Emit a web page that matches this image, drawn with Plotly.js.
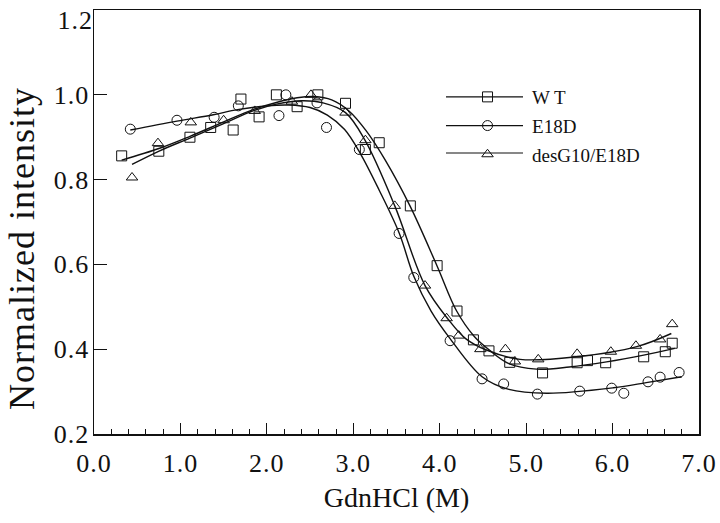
<!DOCTYPE html>
<html>
<head>
<meta charset="utf-8">
<script src="https://cdn.plot.ly/plotly-3.0.1.min.js"></script>
<style>
html, body { margin: 0; padding: 0; background: #fff; }
#chart { width: 720px; height: 523px; }
#chart .xtick text, #chart .ytick text, #chart .annotation-text { letter-spacing: 1px; }
</style>
</head>
<body>
<div id="chart"></div>
<script>
// Measured data points
const wtX = [0.32, 0.75, 1.11, 1.35, 1.61, 1.70, 1.91, 2.11, 2.35, 2.59, 2.91, 3.14, 3.30, 3.66, 3.97, 4.20, 4.39, 4.57, 4.81, 5.19, 5.59, 5.71, 5.92, 6.36, 6.61, 6.69];
const wtY = [0.856, 0.867, 0.900, 0.923, 0.917, 0.990, 0.948, 1.000, 0.972, 1.000, 0.980, 0.871, 0.887, 0.738, 0.597, 0.490, 0.422, 0.396, 0.369, 0.344, 0.368, 0.373, 0.368, 0.382, 0.394, 0.414];

const e18dX = [0.42, 0.96, 1.39, 1.67, 2.14, 2.22, 2.58, 2.69, 3.07, 3.53, 3.70, 4.12, 4.49, 4.74, 5.13, 5.62, 5.99, 6.13, 6.41, 6.55, 6.77];
const e18dY = [0.919, 0.940, 0.947, 0.974, 0.951, 1.000, 0.981, 0.923, 0.871, 0.673, 0.569, 0.420, 0.330, 0.318, 0.294, 0.301, 0.308, 0.296, 0.323, 0.334, 0.345];

const desX = [0.44, 0.74, 1.12, 1.50, 1.86, 2.29, 2.51, 2.91, 3.14, 3.48, 3.83, 4.08, 4.22, 4.47, 4.76, 4.87, 5.14, 5.59, 5.98, 6.27, 6.55, 6.69];
const desY = [0.805, 0.886, 0.935, 0.940, 0.962, 0.984, 1.000, 0.958, 0.893, 0.738, 0.550, 0.473, 0.432, 0.400, 0.400, 0.371, 0.376, 0.389, 0.394, 0.408, 0.423, 0.459];

// Fitted curves
const wtFitX = [0.32, 0.76, 1.11, 1.5, 1.84, 2.11, 2.35, 2.55, 2.75, 2.95, 3.15, 3.37, 3.656, 3.968, 4.196, 4.4, 4.574, 4.8, 5.12, 5.5, 5.93, 6.36, 6.72];
const wtFitY = [0.846, 0.874, 0.902, 0.936, 0.965, 0.982, 0.993, 0.996, 0.988, 0.962, 0.915, 0.846, 0.738, 0.597, 0.490, 0.430, 0.398, 0.366, 0.353, 0.358, 0.370, 0.386, 0.402];

const e18dFitX = [0.42, 0.96, 1.38, 1.66, 2.0, 2.25, 2.5, 2.7, 2.9, 3.08, 3.3, 3.533, 3.7, 3.9, 4.12, 4.49, 4.8, 5.24, 6.01, 6.39, 6.8];
const e18dFitY = [0.917, 0.938, 0.953, 0.965, 0.974, 0.976, 0.970, 0.952, 0.918, 0.862, 0.775, 0.673, 0.572, 0.490, 0.425, 0.335, 0.305, 0.296, 0.309, 0.321, 0.335];

const desFitX = [0.44, 0.76, 1.11, 1.5, 1.84, 2.11, 2.4, 2.65, 2.91, 3.135, 3.48, 3.83, 4.1, 4.3, 4.54, 4.93, 5.58, 6.28, 6.68];
const desFitY = [0.836, 0.868, 0.898, 0.932, 0.962, 0.978, 0.986, 0.981, 0.958, 0.893, 0.738, 0.550, 0.470, 0.425, 0.398, 0.376, 0.382, 0.406, 0.437];

const seriesNames = ['W T', 'E18D', 'desG10/E18D'];
const symbols = ['square-open', 'circle-open', 'triangle-up-open'];

const xTickVals = [0, 1, 2, 3, 4, 5, 6, 7];
const yTickVals = [0.2, 0.4, 0.6, 0.8, 1.0, 1.2];
const yTopLabel = '1.2';
const yTitle = 'Normalized intensity';

const serif = 'Liberation Serif, Times New Roman, serif';
const ink = '#111';

function fit(x, y) {
  return { x: x, y: y, mode: 'lines', line: { color: ink, width: 1.4, shape: 'spline', smoothing: 1 }, showlegend: false, hoverinfo: 'skip' };
}
function pts(x, y, sym) {
  return { x: x, y: y, mode: 'markers', marker: { symbol: sym, size: 10, color: ink, line: { width: 1, color: ink } }, showlegend: false };
}
function leg(name, sym, i) {
  return { x: [null], y: [null], name: name, legendgroup: 'g' + i, mode: 'markers', marker: { symbol: sym, size: 10, color: ink, line: { width: 1, color: ink } } };
}

const data = [
  fit(wtFitX, wtFitY), fit(e18dFitX, e18dFitY), fit(desFitX, desFitY),
  pts(wtX, wtY, symbols[0]), pts(e18dX, e18dY, symbols[1]), pts(desX, desY, symbols[2]),
  leg(seriesNames[0], symbols[0], 0), leg(seriesNames[1], symbols[1], 1), leg(seriesNames[2], symbols[2], 2)
];

// top tick label drawn as annotation so it is not clipped by the page edge
const yTickText = yTickVals.map(function (v) { return v.toFixed(1) === yTopLabel ? '' : v.toFixed(1); });

const layout = {
  width: 720, height: 523,
  margin: { l: 94, r: 21, t: 10, b: 89 },
  paper_bgcolor: '#fff', plot_bgcolor: '#fff',
  font: { family: serif, color: ink },
  showlegend: true,
  legend: { x: 0.5769, y: 0.8396, xanchor: 'left', yanchor: 'top', font: { family: serif, size: 19, color: ink }, bgcolor: 'rgba(0,0,0,0)', itemwidth: 79, tracegroupgap: 1 },
  annotations: [
    { text: yTopLabel, xref: 'paper', yref: 'y', x: 0, y: 1.2, xanchor: 'right', yanchor: 'middle', xshift: 0, yshift: -10, showarrow: false, font: { family: serif, size: 26, color: ink } },
    { text: yTitle, xref: 'paper', yref: 'paper', x: -0.119, y: 0.4363, xanchor: 'center', yanchor: 'middle', textangle: -90, showarrow: false, font: { family: serif, size: 36, color: ink } }
  ],
  xaxis: {
    range: [0, 7], tickvals: xTickVals, tickformat: '.1f',
    ticks: 'inside', ticklen: 11, tickwidth: 1.2, tickcolor: ink,
    minor: { dtick: 0.2, ticks: 'inside', ticklen: 5, tickwidth: 1, tickcolor: ink },
    showline: true, linecolor: ink, linewidth: 1.5, mirror: true,
    showgrid: false, zeroline: false,
    tickfont: { family: serif, size: 26, color: ink },
    ticklabelstandoff: 5,
    title: { text: 'GdnHCl (M)', font: { family: serif, size: 28, color: ink }, standoff: 10 }
  },
  yaxis: {
    range: [0.1999, 1.2001], tickvals: yTickVals, ticktext: yTickText,
    ticks: 'inside', ticklen: 13, tickwidth: 1.2, tickcolor: ink,
    showline: true, linecolor: ink, linewidth: 1.5, mirror: true,
    showgrid: false, zeroline: false,
    tickfont: { family: serif, size: 26, color: ink },
    ticklabelstandoff: -2
  }
};

const gd = document.getElementById('chart');
Plotly.newPlot(gd, data, layout, { displayModeBar: false, staticPlot: true }).then(function () {
  // legend key lines: decoration aligned with the legend markers Plotly drew
  const sz = gd._fullLayout._size;
  const top = gd.getBoundingClientRect().top;
  const rows = Array.from(gd.querySelectorAll('.legend .traces')).map(function (t) {
    const p = t.querySelector('.legendpoints path') || t;
    const r = p.getBoundingClientRect();
    const cy = (r.top + r.bottom) / 2 - top;
    return 1 - (cy - sz.t) / sz.h;
  });
  const shapes = rows.map(function (yy) {
    return { type: 'line', xref: 'paper', yref: 'paper', x0: 0.5818, x1: 0.7091, y0: yy, y1: yy, line: { color: ink, width: 1.2 }, layer: 'below' };
  });
  return Plotly.relayout(gd, { shapes: shapes });
});
</script>
</body>
</html>
